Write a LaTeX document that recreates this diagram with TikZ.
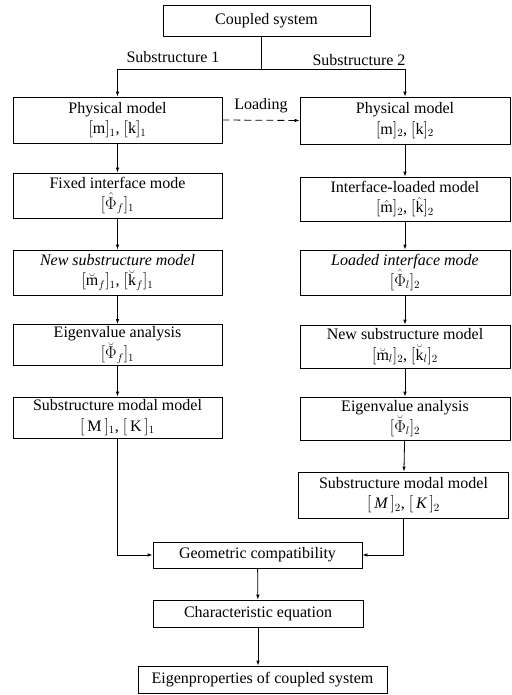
\documentclass[tikz,border=0pt]{standalone}
\usepackage{fontspec}
\setmainfont{Liberation Serif}
\usetikzlibrary{arrows.meta}
\begin{document}
\begin{tikzpicture}[x=1pt, y=-1pt, font=\fontsize{16}{20.5}\selectfont, box/.style={draw, line width=0.8pt, minimum width=209pt, align=center, inner sep=0.5pt}, flow/.style={-{Latex[length=5pt,width=3.5pt]}, line width=0.8pt}]

		\useasboundingbox (0,0) rectangle (511,695);
		% coupled system and its two halves
		\node[box, minimum width=207pt, minimum height=31pt] (top) at (266.5,20.5) {Coupled system};
		\node (lab1) at (173,57) {Substructure 1};
		\node (lab2) at (359,60) {Substructure 2};
		\coordinate (sp) at (261,69);

		% substructure 1
		\node[box, minimum height=46pt] (p1) at (117.5,120) {Physical model\\$[\textrm{m}]_1$, $[\textrm{k}]_1$};
		\node[box, minimum height=45pt] (f1) at (117.5,195.5) {Fixed interface mode\\$[\hat{\Phi}_f]_1$};
		\node[box, minimum height=45pt] (n1) at (117.5,272.5) {\textit{New substructure model}\\$[\breve{\textrm{m}}_f]_1$, $[\breve{\textrm{k}}_f]_1$};
		\node[box, minimum height=41pt] (e1) at (117.5,345) {Eigenvalue analysis\\$[\breve{\Phi}_f]_1$};
		\node[box, minimum height=41pt] (s1) at (117.5,417.5) {Substructure modal model\\$[\,\textrm{M}\,]_1$, $[\,\textrm{K}\,]_1$};

		% substructure 2
		\node[box, minimum width=210pt, minimum height=47pt] (p2) at (405,120.5) {Physical model\\$[\textrm{m}]_2$, $[\textrm{k}]_2$};
		\node[box, minimum width=210pt, minimum height=44pt] (i2) at (405,199) {Interface-loaded model\\$[\hat{\textrm{m}}]_2$, $[\hat{\textrm{k}}]_2$};
		\node[box, minimum width=210pt, minimum height=45pt] (l2) at (405,272.5) {\textit{Loaded interface mode}\\$[\hat{\Phi}_l]_2$};
		\node[box, minimum width=210pt, minimum height=43pt] (n2) at (405,346.5) {New substructure model\\$[\breve{\textrm{m}}_l]_2$, $[\breve{\textrm{k}}_l]_2$};
		\node[box, minimum width=210pt, minimum height=43pt] (e2) at (405,418.5) {Eigenvalue analysis\\$[\breve{\Phi}_l]_2$};
		\node[box, minimum width=210pt, minimum height=46pt] (s2) at (403.5,495) {Substructure modal model\\$[\,\textit{M}\,]_2$, $[\,\textit{K}\,]_2$};

		% synthesis
		\node[box, minimum height=26pt] (geo) at (257.5,555) {Geometric compatibility};
		\node[box, minimum width=210pt, minimum height=27pt] (char) at (258,613.5) {Characteristic equation};
		\node[box, minimum width=249pt, minimum height=27pt] (eig) at (262.5,679.5) {Eigenproperties of coupled system};

		\draw[line width=0.8pt] (top.south -| sp) -- (sp);
		\draw[flow] (sp) -| (p1);
		\draw[flow] (sp) -| (p2);
		\draw[flow, dash pattern=on 7pt off 4pt] (p1.east) -- node[above=4pt] (ld) {Loading} (p2.west);
		\draw[flow] (p1) -- (f1);
		\draw[flow] (f1) -- (n1);
		\draw[flow] (n1) -- (e1);
		\draw[flow] (e1) -- (s1);
		\draw[flow] (p2) -- (i2);
		\draw[flow] (i2) -- (l2);
		\draw[flow] (l2) -- (n2);
		\draw[flow] (n2) -- (e2);
		\draw[flow] (e2) -- (s2);
		\draw[flow] (s1) |- (geo);
		\draw[flow] (s2) |- (geo);
		\draw[flow] (geo) -- (char);
		\draw[flow] (char.south) -- (char.south |- eig.north);
	\end{tikzpicture}
\end{document}
